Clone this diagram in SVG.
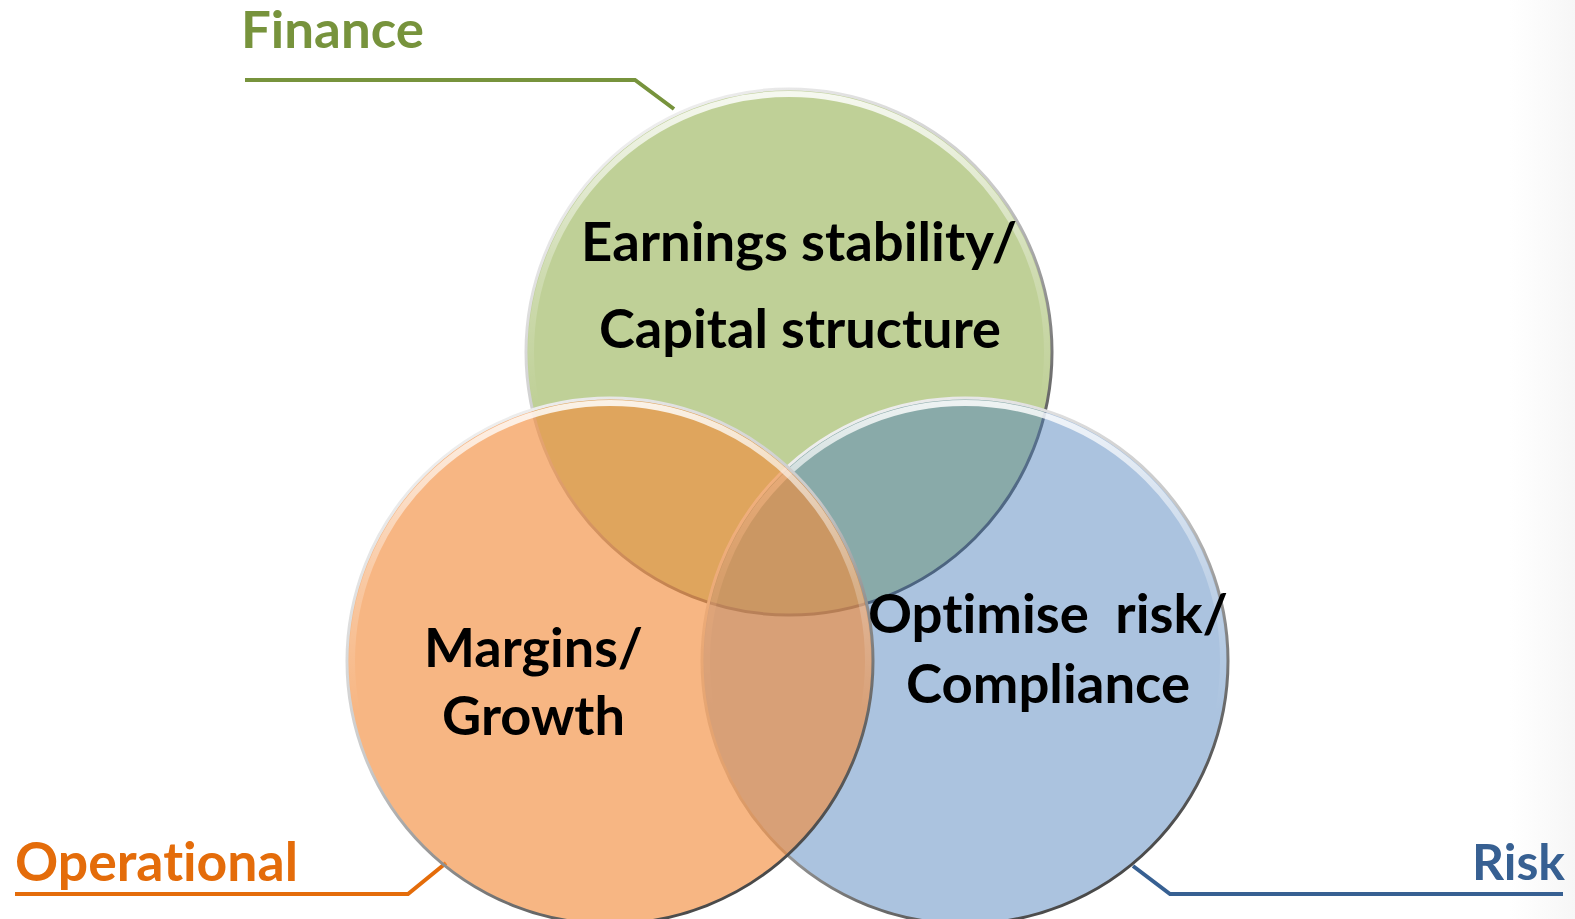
<svg xmlns="http://www.w3.org/2000/svg" width="1575" height="919" viewBox="0 0 1575 919">
  <defs>
    <style>
      text { font-variant-ligatures: none; font-feature-settings: "liga" 0, "clig" 0; }
      .label { font-family: Lato, "Open Sans", "Liberation Sans", sans-serif; font-weight: 700; }
      .body { font-family: Lato, "Open Sans", "Liberation Sans", sans-serif; font-weight: 700; font-size: 54px; fill: #000; }
      .rim { fill: none; stroke: url(#rimGrad); stroke-width: 3; }
      .shine { fill: none; stroke: url(#shineGrad); stroke-width: 6; }
      .lead { fill: none; stroke-width: 4; stroke-linejoin: miter; }
    </style>
    <!-- bevelled edge: light at top-left, dark at bottom-right -->
    <linearGradient id="rimGrad" x1="0.2" y1="0" x2="0.8" y2="1">
      <stop offset="0" stop-color="#f4f4f4"/>
      <stop offset="0.45" stop-color="#c8c8c8"/>
      <stop offset="0.75" stop-color="#707070"/>
      <stop offset="1" stop-color="#3a3a3a"/>
    </linearGradient>
    <!-- inner highlight along the upper rim -->
    <linearGradient id="shineGrad" x1="0" y1="0" x2="0" y2="1">
      <stop offset="0" stop-color="#ffffff" stop-opacity="0.85"/>
      <stop offset="0.35" stop-color="#ffffff" stop-opacity="0.25"/>
      <stop offset="0.6" stop-color="#ffffff" stop-opacity="0"/>
    </linearGradient>
    <linearGradient id="edgeShade" x1="0" y1="0" x2="1" y2="0">
      <stop offset="0" stop-color="#ececec" stop-opacity="0"/>
      <stop offset="1" stop-color="#ececec" stop-opacity="0.45"/>
    </linearGradient>
  </defs>

  <rect width="1575" height="919" fill="#ffffff"/>
  <rect x="1510" y="0" width="65" height="919" fill="url(#edgeShade)"/>

  <!-- leader lines -->
  <g id="connectors">
    <polyline class="lead" stroke="#77933C" points="245,80 635,80 674,109"/>
    <polyline class="lead" stroke="#E46C0A" points="15,894 408,894 446,863"/>
    <polyline class="lead" stroke="#376092" points="1133,866 1170,894 1563,894"/>
  </g>

  <g id="finance">
    <circle cx="789" cy="352" r="263" fill="#97B357" fill-opacity="0.62"/>
    <circle class="shine" cx="789" cy="352" r="258"/>
    <circle class="rim" cx="789" cy="352" r="263"/>
  </g>

  <g id="risk">
    <circle cx="965" cy="661" r="263" fill="#4F81BD" fill-opacity="0.48"/>
    <circle class="shine" cx="965" cy="661" r="258"/>
    <circle class="rim" cx="965" cy="661" r="263"/>
  </g>

  <g id="operational">
    <circle cx="610" cy="661" r="263" fill="#F28B3A" fill-opacity="0.63"/>
    <circle class="shine" cx="610" cy="661" r="258"/>
    <circle class="rim" cx="610" cy="661" r="263"/>
  </g>

  <g id="finance-text">
    <text class="body" x="581" y="261" textLength="436" lengthAdjust="spacingAndGlyphs">Earnings stability/</text>
    <text class="body" x="599" y="348" textLength="402" lengthAdjust="spacingAndGlyphs">Capital structure</text>
  </g>
  <g id="operational-text">
    <text class="body" x="424" y="667" textLength="219" lengthAdjust="spacingAndGlyphs">Margins/</text>
    <text class="body" x="442" y="735" textLength="183" lengthAdjust="spacingAndGlyphs">Growth</text>
  </g>
  <g id="risk-text">
    <text class="body" x="868" y="633" textLength="360" lengthAdjust="spacingAndGlyphs" xml:space="preserve">Optimise  risk/</text>
    <text class="body" x="906" y="703" textLength="284" lengthAdjust="spacingAndGlyphs">Compliance</text>
  </g>

  <g id="labels">
    <text class="label" x="241" y="48" font-size="51" fill="#77933C" textLength="183" lengthAdjust="spacingAndGlyphs">Finance</text>
    <text class="label" x="15" y="881" font-size="53" fill="#E46C0A" textLength="283" lengthAdjust="spacingAndGlyphs">Operational</text>
    <text class="label" x="1472" y="880" font-size="50" fill="#376092" textLength="93" lengthAdjust="spacingAndGlyphs">Risk</text>
  </g>
</svg>
